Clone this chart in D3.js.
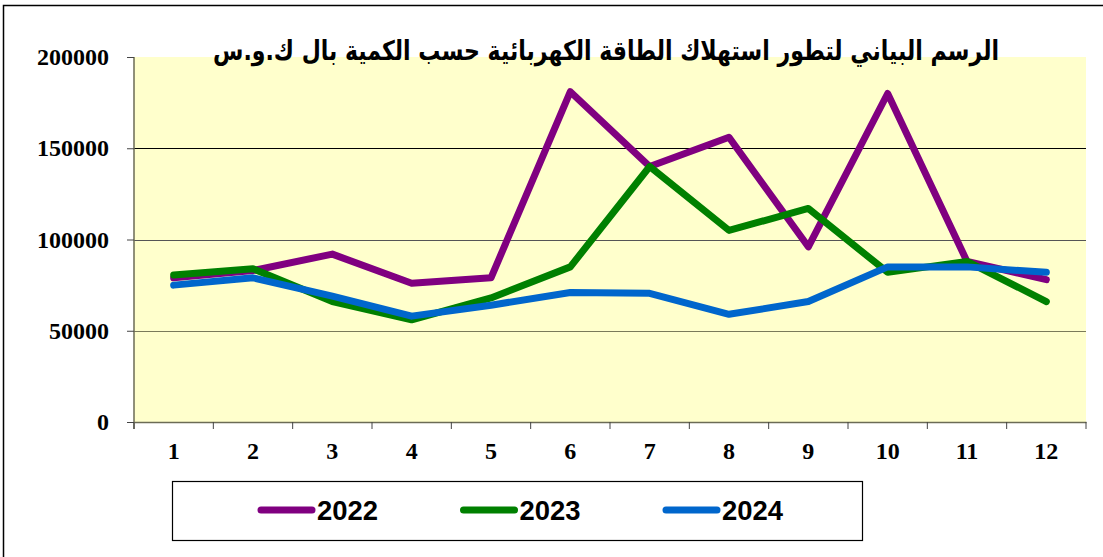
<!DOCTYPE html>
<html>
<head>
<meta charset="utf-8">
<script src="https://cdn.jsdelivr.net/npm/d3@7"></script>
<style>
  body { margin: 0; background: #fff; }
  svg { display: block; }
</style>
</head>
<body>
<div id="chart"></div>
<script>
// data
const title = "الرسم البياني لتطور استهلاك الطاقة الكهربائية حسب الكمية بال ك.و.س";
const months = ["1", "2", "3", "4", "5", "6", "7", "8", "9", "10", "11", "12"];
const years = ["2022", "2023", "2024"];
const v2022 = [79000, 83000, 92000, 76000, 79000, 181000, 140000, 156000, 96000, 180000, 88000, 78000];
const v2023 = [80500, 84000, 66000, 56000, 68000, 85000, 140000, 105000, 117000, 82000, 88000, 66000];
const v2024 = [75000, 79000, 69000, 58000, 64000, 71000, 70500, 59000, 66000, 85000, 85000, 82000];
const yTicks = [0, 50000, 100000, 150000, 200000];
const colors = ["#800080", "#008000", "#0066CC"];

const W = 1103, H = 557;
const plot = { left: 134, right: 1086, top: 57, bottom: 422 };

const svg = d3.select("#chart").append("svg")
  .attr("width", W).attr("height", H);

// outer border of the chart area
svg.append("rect")
  .attr("x", 3.5).attr("y", 5.5)
  .attr("width", W + 10).attr("height", H + 10)
  .attr("fill", "none").attr("stroke", "#000").attr("stroke-width", 1.5);

const x = d3.scaleBand().domain(months).range([plot.left, plot.right]);
const y = d3.scaleLinear().domain([0, 200000]).range([plot.bottom, plot.top]);

// plot background
svg.append("rect")
  .attr("x", plot.left).attr("y", plot.top)
  .attr("width", plot.right - plot.left).attr("height", plot.bottom - plot.top)
  .attr("fill", "#FFFFCC");

// grid lines
const gridColor = { 50000: "#7a7a5a", 100000: "#555", 150000: "#000" };
svg.append("g").selectAll("line")
  .data(yTicks.filter(d => d > 0 && d < 200000))
  .join("line")
  .attr("x1", plot.left).attr("x2", plot.right)
  .attr("y1", d => Math.round(y(d)) + 0.5).attr("y2", d => Math.round(y(d)) + 0.5)
  .attr("stroke", d => gridColor[d]).attr("stroke-width", 1.2);

// y axis
const yAxis = svg.append("g")
  .attr("transform", `translate(${plot.left},0)`)
  .call(d3.axisLeft(y).tickValues(yTicks).tickSize(7).tickPadding(18).tickFormat(d3.format("d")));
yAxis.select(".domain").attr("stroke", "#6b6b55").attr("stroke-width", 1.5)
  .attr("d", `M0,${plot.top}V${plot.bottom + 7}`);
yAxis.selectAll(".tick line").attr("stroke", "#444");
yAxis.selectAll(".tick text")
  .attr("font-family", "'Liberation Serif', 'Times New Roman', serif")
  .attr("font-weight", "bold").attr("font-size", 24).attr("fill", "#000");

// x axis
const xAxis = svg.append("g")
  .attr("transform", `translate(0,${plot.bottom})`)
  .call(d3.axisBottom(x).tickSize(0).tickPadding(20));
xAxis.select(".domain").attr("stroke", "#6b6b55").attr("stroke-width", 1.5);
xAxis.selectAll(".tick text")
  .attr("font-family", "'Liberation Serif', 'Times New Roman', serif")
  .attr("font-weight", "bold").attr("font-size", 24).attr("fill", "#000");
// tick marks between categories
xAxis.append("g").selectAll("line")
  .data(months.map(m => x(m)).concat([plot.right]))
  .join("line")
  .attr("x1", d => d).attr("x2", d => d)
  .attr("y1", 0).attr("y2", 7)
  .attr("stroke", "#444");

// series lines
const series = [v2022, v2023, v2024];
const line = d3.line()
  .x((d, i) => x(months[i]) + x.bandwidth() / 2)
  .y(d => y(d));
svg.append("g").selectAll("path")
  .data(series)
  .join("path")
  .attr("d", line)
  .attr("fill", "none")
  .attr("stroke", (d, i) => colors[i])
  .attr("stroke-width", 7)
  .attr("stroke-linecap", "round")
  .attr("stroke-linejoin", "round");

// title
svg.append("text")
  .attr("x", 606).attr("y", 60)
  .attr("text-anchor", "middle")
  .attr("direction", "rtl")
  .attr("font-family", "'DejaVu Sans', 'Noto Sans', sans-serif")
  .attr("font-weight", "bold").attr("font-size", 27)
  .attr("textLength", 786).attr("lengthAdjust", "spacingAndGlyphs")
  .text(title);

// legend
const legend = svg.append("g");
legend.append("rect")
  .attr("x", 172.5).attr("y", 481.5)
  .attr("width", 690).attr("height", 59)
  .attr("fill", "#fff").attr("stroke", "#000").attr("stroke-width", 1.2);
const lx = d3.scalePoint().domain(years).range([258, 663]);
const item = legend.selectAll("g.item")
  .data(years)
  .join("g").attr("class", "item")
  .attr("transform", d => `translate(${lx(d)},510)`);
item.append("line")
  .attr("x1", 3).attr("x2", 54).attr("y1", 0).attr("y2", 0)
  .attr("stroke", (d, i) => colors[i])
  .attr("stroke-width", 7).attr("stroke-linecap", "round");
item.append("text")
  .attr("x", 59).attr("y", 0).attr("dy", "0.36em")
  .attr("font-family", "'Liberation Sans Narrow', 'Arial Narrow', 'Liberation Sans', sans-serif")
  .attr("font-weight", "bold").attr("font-size", 28)
  .attr("textLength", 61).attr("lengthAdjust", "spacingAndGlyphs")
  .text(d => d);
</script>
</body>
</html>
